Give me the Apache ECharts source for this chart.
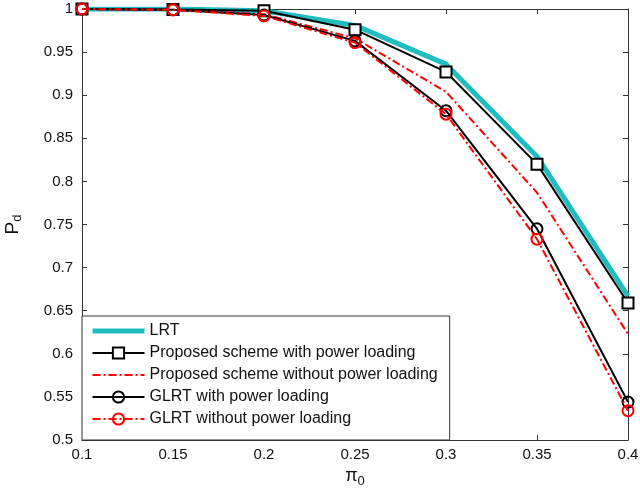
<!DOCTYPE html>
<html>
<head>
<meta charset="utf-8">
<script src="https://cdn.jsdelivr.net/npm/echarts@6/dist/echarts.min.js"></script>
<style>html,body{margin:0;padding:0;background:#fff}#c{width:640px;height:493px}</style>
</head>
<body>
<div id="c"></div>
<script>
var piValues = [0.1, 0.15, 0.2, 0.25, 0.3, 0.35, 0.4];
var lrt = [1, 1, 0.998, 0.981, 0.936, 0.829, 0.667];
var propWith = [1, 0.9995, 0.998, 0.976, 0.927, 0.820, 0.659];
var propWithout = [1, 0.999, 0.994, 0.966, 0.904, 0.787, 0.623];
var glrtWith = [1, 0.999, 0.993, 0.963, 0.882, 0.745, 0.544];
var glrtWithout = [1, 0.999, 0.992, 0.961, 0.878, 0.733, 0.534];
var seriesNames = ['LRT', 'Proposed scheme with power loading', 'Proposed scheme without power loading', 'GLRT with power loading', 'GLRT without power loading'];

function pairs(arr) { return piValues.map(function (x, i) { return [x, arr[i]]; }); }

var font = 'Liberation Sans, Arial, Helvetica, sans-serif';
var dashDot = [8, 3, 2, 3];
var cyan = '#1fbcc0';
var chart = echarts.init(document.getElementById('c'), null, { renderer: 'canvas' });
var axisLineStyle = { color: '#333', width: 1 };
var hiddenSym = { color: 'rgba(0,0,0,0)', borderWidth: 0, opacity: 0 };
chart.setOption({
  animation: false,
  backgroundColor: '#fff',
  grid: { left: 82, top: 9, right: 12, bottom: 53, containLabel: false, outerBoundsMode: 'none' },
  xAxis: [{
    type: 'value', min: 0.1, max: 0.4, interval: 0.05,
    name: 'π{sub|0}', nameLocation: 'middle', nameGap: 25,
    nameTextStyle: { fontFamily: font, fontSize: 18, color: '#111', rich: { sub: { fontSize: 13, padding: [10, 0, 0, 0], fontFamily: font, color: '#111' } } },
    axisLine: { show: true, onZero: false, lineStyle: axisLineStyle },
    axisTick: { show: true, inside: true, length: 5, lineStyle: axisLineStyle },
    axisLabel: { fontFamily: font, fontSize: 15, color: '#111', margin: 7 },
    splitLine: { show: false }
  }, {
    type: 'value', min: 0.1, max: 0.4, interval: 0.05, position: 'top',
    axisLine: { show: true, onZero: false, lineStyle: axisLineStyle },
    axisTick: { show: true, inside: true, length: 5, lineStyle: axisLineStyle },
    axisLabel: { show: false }, splitLine: { show: false }
  }],
  yAxis: [{
    type: 'value', min: 0.5, max: 1, interval: 0.05,
    name: 'P{sub|d}', nameLocation: 'middle', nameGap: 58, nameRotate: 90,
    nameTextStyle: { fontFamily: font, fontSize: 19, color: '#111', rich: { sub: { fontSize: 13, padding: [10, 0, 0, 0], fontFamily: font, color: '#111' } } },
    axisLine: { show: true, onZero: false, lineStyle: axisLineStyle },
    axisTick: { show: true, inside: true, length: 5, lineStyle: axisLineStyle },
    axisLabel: { fontFamily: font, fontSize: 15, color: '#111', margin: 9 },
    splitLine: { show: false }
  }, {
    type: 'value', min: 0.5, max: 1, interval: 0.05, position: 'right',
    axisLine: { show: true, onZero: false, lineStyle: axisLineStyle },
    axisTick: { show: true, inside: true, length: 5, lineStyle: axisLineStyle },
    axisLabel: { show: false }, splitLine: { show: false }
  }],
  legend: {
    orient: 'vertical', left: 82, top: 316,
    padding: [7, 12, 13, 8], itemGap: 6, itemWidth: 52, itemHeight: 14,
    backgroundColor: '#fff', borderColor: '#333', borderWidth: 1, borderRadius: 0,
    textStyle: { fontFamily: font, fontSize: 16, color: '#111' },
    data: [
      { name: seriesNames[0], itemStyle: hiddenSym, lineStyle: { width: 5, color: cyan } },
      { name: seriesNames[1] },
      { name: seriesNames[2], itemStyle: hiddenSym },
      { name: seriesNames[3] },
      { name: seriesNames[4] }
    ]
  },
  series: [{
    name: seriesNames[0], type: 'line', data: pairs(lrt), symbol: 'none',
    lineStyle: { color: cyan, width: 5 }, itemStyle: { color: cyan }, z: 1
  }, {
    name: seriesNames[1], type: 'line', data: pairs(propWith), symbol: 'rect', symbolSize: 11,
    lineStyle: { color: '#000', width: 2 }, itemStyle: { color: '#fff', borderColor: '#000', borderWidth: 2 }, z: 2
  }, {
    name: seriesNames[2], type: 'line', data: pairs(propWithout), symbol: 'none',
    lineStyle: { color: '#f00', width: 2, type: dashDot }, itemStyle: { color: '#f00' }, z: 3
  }, {
    name: seriesNames[3], type: 'line', data: pairs(glrtWith), symbol: 'circle', symbolSize: 11,
    lineStyle: { color: '#000', width: 2 }, itemStyle: { color: 'rgba(255,255,255,0)', borderColor: '#000', borderWidth: 2 }, z: 4
  }, {
    name: seriesNames[4], type: 'line', data: pairs(glrtWithout), symbol: 'circle', symbolSize: 11,
    lineStyle: { color: '#f00', width: 2, type: dashDot }, itemStyle: { color: 'rgba(255,255,255,0)', borderColor: '#f00', borderWidth: 2 }, z: 5
  }]
});
</script>
</body>
</html>
